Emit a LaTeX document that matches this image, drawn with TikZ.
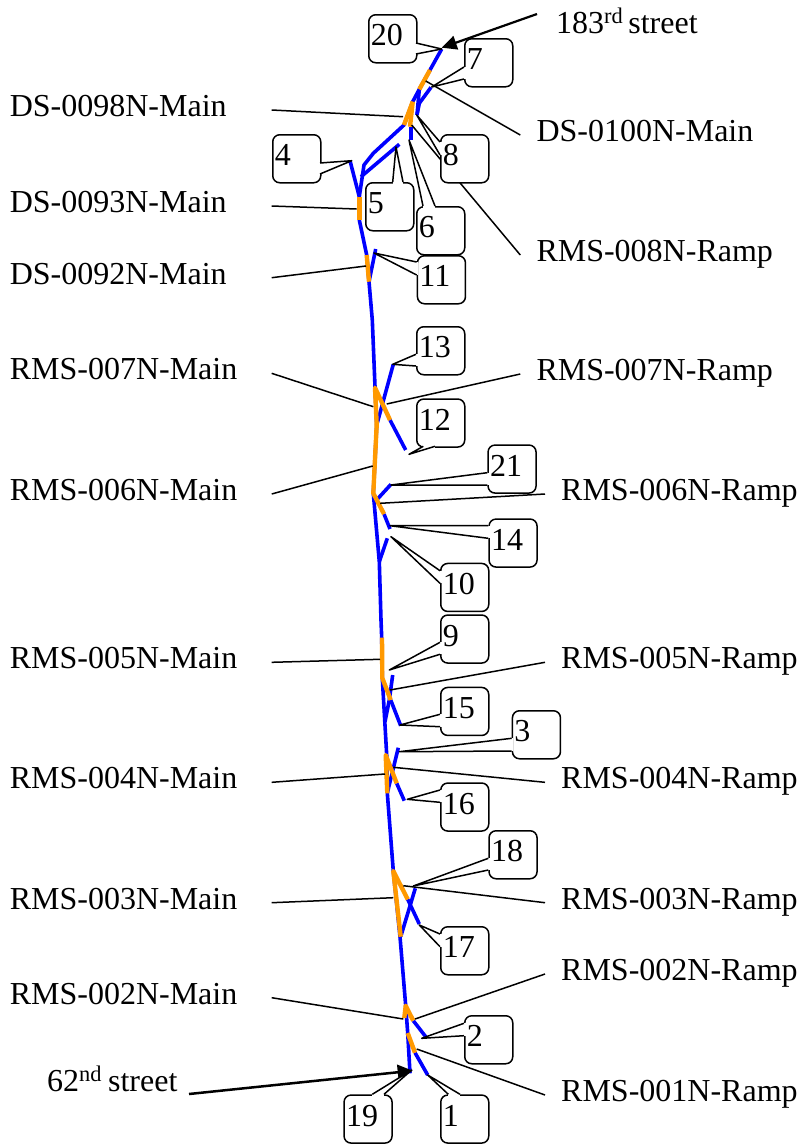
\documentclass[tikz,border=0pt]{standalone}
\usepackage{fontspec}
\setmainfont{Liberation Serif}
\usetikzlibrary{arrows.meta, calc}

% wedge of a numbered tag: node, two base points seen from its corner, tip
\newcommand{\tagwedge}[4]{%
  \coordinate (#1a) at ($(#1.north west)+(#2)$);
  \coordinate (#1b) at ($(#1.north west)+(#3)$);
  \coordinate (#1tip) at (#4);
  \draw[white, line width=3pt] (#1a) -- (#1b);
  \filldraw[leader, fill=white] (#1a) -- (#1tip) -- (#1b);
}

\begin{document}
\begin{tikzpicture}[
  x=1pt, y=-1pt,
  every node/.style={font=\fontsize{32}{38}\selectfont},
  road/.style={line width=3.6pt, blue, line join=round},
  meter/.style={line width=4.4pt, orange1, line join=round},
  leader/.style={line width=1.5pt, black, line join=round},
  mainlabel/.style={anchor=east, inner sep=0pt, text width=261.7pt, align=left, text height=24pt, text depth=11pt},
  ramplabel/.style={anchor=west, inner ysep=0pt, inner xsep=16pt, text height=24pt, text depth=11pt},
  tag/.style={draw, line width=1.5pt, fill=white, rounded corners=7pt, anchor=north west,
    minimum width=48pt, minimum height=48pt, text width=44pt, inner xsep=2pt, inner ysep=0pt,
    align=left, text height=22pt, text depth=8pt},
]
\definecolor{orange1}{HTML}{FF9900}
\useasboundingbox (0,0) rectangle (799,1144);

% --- Freeway, blue links ---
\draw[road] (441.7,49) -- (430,70) -- (419.3,89.3) -- (412.7,101.7) -- (404,125)
  -- (373.3,153.3) -- (364,165) -- (359.3,196.7) -- (359.3,220) -- (366.7,255)
  -- (369,281.7) -- (372.3,320) -- (375,386.7) -- (376.7,425) -- (373.3,493.3)
  -- (379.3,561.7) -- (381,620) -- (381.7,637.7) -- (382.3,678) -- (386.7,755)
  -- (387.3,793) -- (393.3,871) -- (400,936.7) -- (405.7,1005.7) -- (407.7,1033) -- (410,1073.3);
% branches
\draw[road] (350,160.7) -- (359.3,196.7);
\draw[road] (399.3,144.3) -- (361,176.7);
\draw[road] (375.7,249) -- (369,281.7);
\draw[road] (431,87.3) -- (419.3,103.3) -- (417,115);
\draw[road] (419.3,89.3) -- (417,115);
\draw[road] (410.7,126.7) -- (410.7,140);
\draw[road] (393.3,364.3) -- (376.7,425);
\draw[road] (390,420) -- (405.7,450);
\draw[road] (391,484.3) -- (375,501.7);
\draw[road] (384,514) -- (390,529);
\draw[road] (387.3,538.3) -- (379.3,561.7);
\draw[road] (392.7,675) -- (389.3,700) -- (385,721.7);
\draw[road] (390.7,700) -- (400.7,725.7);
\draw[road] (398.3,747.7) -- (387.3,793);
\draw[road] (396.7,783.3) -- (404.3,800.7);
\draw[road] (415.3,888.3) -- (400.7,936.7);
\draw[road] (407.7,899.3) -- (419.3,924);
\draw[road] (413.3,1020.7) -- (425.7,1036.7);
\draw[road] (415,1052.7) -- (427.7,1075);

% --- Metered links, orange ---
\draw[meter] (430,70) -- (419.3,89.3);
\draw[meter] (412.7,101.7) -- (404,125);
\draw[meter] (412.7,101.7) -- (410,126.7);
\draw[meter] (359.3,196.7) -- (359.3,220);
\draw[meter] (366.7,255) -- (369,281.7);
\draw[meter] (390,420) -- (375,387.7) -- (376.7,425) -- (373.3,493.3) -- (384,514);
\draw[meter] (382,637.7) -- (382.3,678) -- (390.7,700);
\draw[meter] (387.3,793.3) -- (385.7,755) -- (396.7,783.3);
\draw[meter] (400.7,936.7) -- (393.3,871) -- (407.7,899.3);
\draw[meter] (404.3,1018) -- (405.7,1005.7) -- (413.3,1020.7);
\draw[meter] (407.7,1033) -- (415,1052.7);

% --- Main line labels ---
\node[mainlabel] (m98) at (271.7,110) {DS-0098N-Main};
\node[mainlabel] (m93) at (271.7,206) {DS-0093N-Main};
\node[mainlabel] (m92) at (271.7,277.7) {DS-0092N-Main};
\node[mainlabel] (m07) at (271.7,373.3) {RMS-007N-Main};
\node[mainlabel] (m06) at (271.7,494) {RMS-006N-Main};
\node[mainlabel] (m05) at (271.7,662.3) {RMS-005N-Main};
\node[mainlabel] (m04) at (271.7,782.3) {RMS-004N-Main};
\node[mainlabel] (m03) at (271.7,902.7) {RMS-003N-Main};
\node[mainlabel] (m02) at (271.7,997.7) {RMS-002N-Main};

\coordinate (e98) at (403,116.7); \draw[leader] (m98.east) -- (e98);
\coordinate (e93) at (356.7,209); \draw[leader] (m93.east) -- (e93);
\coordinate (e92) at (366,266); \draw[leader] (m92.east) -- (e92);
\coordinate (e07) at (373.3,406.7); \draw[leader] (m07.east) -- (e07);
\coordinate (e06) at (372.7,466); \draw[leader] (m06.east) -- (e06);
\coordinate (e05) at (380,659.3); \draw[leader] (m05.east) -- (e05);
\coordinate (e04) at (385,774); \draw[leader] (m04.east) -- (e04);
\coordinate (e03) at (393.3,897.7); \draw[leader] (m03.east) -- (e03);
\coordinate (e02) at (403.3,1019); \draw[leader] (m02.east) -- (e02);

% --- Ramp labels ---
\node[ramplabel] (d100) at (520.3,135) {DS-0100N-Main};
\node[ramplabel] (r08) at (520.3,255) {RMS-008N-Ramp};
\node[ramplabel] (r07) at (520.3,374) {RMS-007N-Ramp};
\node[ramplabel] (r06) at (545,494) {RMS-006N-Ramp};
\node[ramplabel] (r05) at (545,662.3) {RMS-005N-Ramp};
\node[ramplabel] (r04) at (545,782.3) {RMS-004N-Ramp};
\node[ramplabel] (r03) at (545,902.7) {RMS-003N-Ramp};
\node[ramplabel] (r02) at (545,974) {RMS-002N-Ramp};
\node[ramplabel] (r01) at (545,1095) {RMS-001N-Ramp};

\coordinate (f100) at (425.7,81); \draw[leader] (d100.west) -- (f100);
\coordinate (f08) at (411.7,125); \draw[leader] (r08.west) -- (f08);
\coordinate (f07) at (386.7,404); \draw[leader] (r07.west) -- (f07);
\coordinate (f06) at (380,503.3); \draw[leader] (r06.west) -- (f06);
\coordinate (f05) at (390,690); \draw[leader] (r05.west) -- (f05);
\coordinate (f04) at (393.3,767.3); \draw[leader] (r04.west) -- (f04);
\coordinate (f03) at (403.3,885.7); \draw[leader] (r03.west) -- (f03);
\coordinate (f02) at (415,1019); \draw[leader] (r02.west) -- (f02);
\coordinate (f01) at (416.7,1049); \draw[leader] (r01.west) -- (f01);

% --- Street arrows ---
\node[anchor=base west, inner sep=0pt] (north) at (556,33) {183\textsuperscript{rd}\hspace{-3pt} street};
\node[anchor=base west, inner sep=0pt] (south) at (47,1091) {62\textsuperscript{nd}\hspace{-2pt} street};
\coordinate (northfrom) at (537,14);
\coordinate (northto) at (441.7,47.7);
\coordinate (southfrom) at (189,1094);
\coordinate (southto) at (412.7,1070.7);
\draw[line width=2.2pt, -{Triangle[length=15pt, width=14pt]}] (northfrom) -- (northto);
\draw[line width=2.5pt, -{Triangle[length=15pt, width=15pt]}] (southfrom) -- (southto);

% --- Numbered tags ---
\node[tag] (t20) at (368,14) {20};
\tagwedge{t20}{48,29}{48,40}{441.7,49}
\node[tag] (t7) at (464,38) {7};
\tagwedge{t7}{0,29}{0,41}{431.7,87}
\node[tag] (t8) at (440,134) {8};
\tagwedge{t8}{0,8}{0,21}{416.7,115}
\node[tag] (t4) at (272,134) {4};
\tagwedge{t4}{48,29}{48,40}{351.7,160.7}
\node[tag] (t5) at (365,182) {5};
\tagwedge{t5}{27.7,0}{38,0}{396,147}
\node[tag] (t6) at (416,206) {6};
\tagwedge{t6}{7,0}{19,0}{409,140}
\node[tag] (t11) at (416.7,255) {11};
\tagwedge{t11}{0,7}{0,20}{374,253}
\node[tag] (t13) at (416,326) {13};
\tagwedge{t13}{0,28.3}{0,40}{392.7,364.3}
\node[tag] (t12) at (416,398.3) {12};
\tagwedge{t12}{7.3,48}{19,48}{409,454.3}
\node[tag] (t21) at (487.3,444.3) {21};
\tagwedge{t21}{0,28.4}{0,40.7}{391,485}
\node[tag] (t14) at (488.3,518.3) {14};
\tagwedge{t14}{0,7.4}{0,20}{390,525.7}
\node[tag] (t10) at (440,562.7) {10};
\tagwedge{t10}{0,8}{0,20.6}{391,536.7}
\node[tag] (t9) at (440,614.3) {9};
\tagwedge{t9}{0,28}{0,40}{389.3,670}
\node[tag] (t15) at (440,686.7) {15};
\tagwedge{t15}{0,27.6}{0,40}{400,725}
\node[tag] (t3) at (511.7,710) {3};
\tagwedge{t3}{0,28.3}{0,41}{399.3,751.7}
\node[tag] (t16) at (440,782.3) {16};
\tagwedge{t16}{0,7.7}{0,20}{407.3,799.3}
\node[tag] (t18) at (488.3,830) {18};
\tagwedge{t18}{0,28.3}{0,40}{413.3,886}
\node[tag] (t17) at (440,926) {17};
\tagwedge{t17}{0,8}{0,20.7}{419.3,925}
\node[tag] (t2) at (464,1015) {2};
\tagwedge{t2}{0,8.3}{0,20.7}{421.7,1038.3}
\node[tag] (t19) at (343.3,1094.3) {19};
\tagwedge{t19}{29,0}{40.7,0}{411.7,1070}
\node[tag] (t1) at (440,1094.3) {1};
\tagwedge{t1}{8.3,0}{20,0}{427.7,1075}

\end{tikzpicture}
\end{document}
